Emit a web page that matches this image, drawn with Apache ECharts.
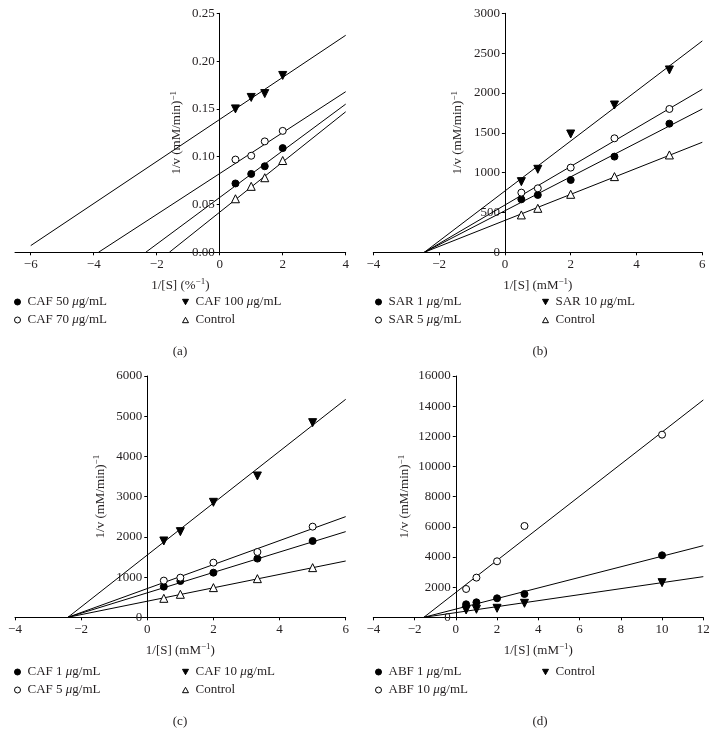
<!DOCTYPE html>
<html>
<head>
<meta charset="utf-8">
<script src="https://cdn.jsdelivr.net/npm/echarts@6/dist/echarts.min.js"></script>
<style>
html,body{margin:0;padding:0;background:#fff;}
#chart{width:719px;height:745px;}
</style>
</head>
<body>
<div id="chart"></div>
<script>
// ---------- DATA ----------
// Panel (a)
const xA = [0.5, 1, 1.43, 2];
const aCAF50 = [0.072, 0.082, 0.090, 0.109];
const aCAF70 = [0.097, 0.101, 0.116, 0.127];
const aCAF100 = [0.150, 0.162, 0.166, 0.185];
const aControl = [0.056, 0.069, 0.078, 0.096];
const aFitCAF50 = [[-2.35, 0], [4, 0.155]];
const aFitCAF70 = [[-3.85, 0], [4, 0.168]];
const aFitCAF100 = [[-6, 0.007], [4, 0.227]];
const aFitControl = [[-1.6, 0], [4, 0.147]];
const aXTicks = [-6, -4, -2, 0, 2, 4];

// Panel (b)
const xB = [0.5, 1, 2, 3.33, 5];
const bSAR1 = [665, 720, 908, 1201, 1615];
const bSAR5 = [749, 803, 1063, 1431, 1799];
const bSAR10 = [887, 1042, 1485, 1849, 2289];
const bControl = [469, 552, 728, 950, 1222];
const bFitSAR1 = [[-2.45, 0], [6, 1799]];
const bFitSAR5 = [[-2.45, 0], [6, 2046]];
const bFitSAR10 = [[-2.45, 0], [6, 2653]];
const bFitControl = [[-2.45, 0], [6, 1381]];

// Panel (c)
const xC = [0.5, 1, 2, 3.33, 5];
const cCAF1 = [762, 903, 1110, 1459, 1898];
const cCAF5 = [912, 986, 1359, 1624, 2254];
const cCAF10 = [1898, 2130, 2859, 3514, 4840];
const cControl = [472, 572, 738, 961, 1235];
const cFitCAF1 = [[-2.4, 0], [6, 2130]];
const cFitCAF5 = [[-2.4, 0], [6, 2503]];
const cFitCAF10 = [[-2.4, 0], [6, 5420]];
const cFitControl = [[-2.4, 0], [6, 1400]];

// Panel (d)
const xD = [0.5, 1, 2, 3.33, 10];
const dABF1 = [862, 994, 1260, 1547, 4110];
const dABF10 = [1878, 2630, 3713, 6055, 12110];
const dControl = [486, 530, 597, 928, 2298];
const dFitABF1 = [[-1.55, 0], [12, 4751]];
const dFitABF10 = [[-1.55, 0], [12, 14409]];
const dFitControl = [[-1.55, 0], [12, 2696]];

// ---------- STYLE / LAYOUT ----------
const FONT = '"Liberation Serif", "DejaVu Serif", serif';
const TXT = '#231f20';
const TRI_DOWN = 'path://M0,0L10,0L5,9Z';
const TRI_UP = 'path://M5,0L10,9L0,9Z';
const MK = {
  filled: {symbol: 'circle', size: 7, color: '#000', border: '#000'},
  open: {symbol: 'circle', size: 7, color: '#fff', border: '#000'},
  down: {symbol: TRI_DOWN, size: 8, color: '#000', border: '#000'},
  up: {symbol: TRI_UP, size: 8, color: '#fff', border: '#000'}
};
const SUP = {fontFamily: FONT, fontSize: 9, color: TXT, verticalAlign: 'top', lineHeight: 10, padding: [0, 0, 6, 0]};
const IT = {fontFamily: FONT, fontSize: 13, color: TXT, fontStyle: 'italic'};

const panels = [
  {key: 'a', grid: {left: 15, top: 13.3, width: 330.7, height: 239}, xMin: -6.5, xMax: 4, xTicks: aXTicks,
   yMax: 0.25, yInt: 0.05, yDec: 2, yGap: 35, xName: '1/[S] (%{sup|−1})',
   series: [
     ['CAF 50 μg/mL', xA, aCAF50, aFitCAF50, 'filled'],
     ['CAF 70 μg/mL', xA, aCAF70, aFitCAF70, 'open'],
     ['CAF 100 μg/mL', xA, aCAF100, aFitCAF100, 'down'],
     ['Control', xA, aControl, aFitControl, 'up']],
   legendCols: [[0, 1], [2, 3]], legendX: [14, 182], legendY: 295, label: [180, 352]},
  {key: 'b', grid: {left: 373.3, top: 13.3, width: 329, height: 239}, xMin: -4, xMax: 6, xTicks: null,
   yMax: 3000, yInt: 500, yDec: 0, yGap: 39, xName: '1/[S] (mM{sup|−1})',
   series: [
     ['SAR 1 μg/mL', xB, bSAR1, bFitSAR1, 'filled'],
     ['SAR 5 μg/mL', xB, bSAR5, bFitSAR5, 'open'],
     ['SAR 10 μg/mL', xB, bSAR10, bFitSAR10, 'down'],
     ['Control', xB, bControl, bFitControl, 'up']],
   legendCols: [[0, 1], [2, 3]], legendX: [375, 542], legendY: 295, label: [540, 352]},
  {key: 'c', grid: {left: 15, top: 376, width: 330.7, height: 241.3}, xMin: -4, xMax: 6, xTicks: null,
   yMax: 6000, yInt: 1000, yDec: 0, yGap: 39, xName: '1/[S] (mM{sup|−1})',
   series: [
     ['CAF 1 μg/mL', xC, cCAF1, cFitCAF1, 'filled'],
     ['CAF 5 μg/mL', xC, cCAF5, cFitCAF5, 'open'],
     ['CAF 10 μg/mL', xC, cCAF10, cFitCAF10, 'down'],
     ['Control', xC, cControl, cFitControl, 'up']],
   legendCols: [[0, 1], [2, 3]], legendX: [14, 182], legendY: 665, label: [180, 722]},
  {key: 'd', grid: {left: 373.3, top: 376, width: 330, height: 241.3}, xMin: -4, xMax: 12, xTicks: null,
   yMax: 16000, yInt: 2000, yDec: 0, yGap: 43, xName: '1/[S] (mM{sup|−1})',
   series: [
     ['ABF 1 μg/mL', xD, dABF1, dFitABF1, 'filled'],
     ['ABF 10 μg/mL', xD, dABF10, dFitABF10, 'open'],
     ['Control', xD, dControl, dFitControl, 'down']],
   legendCols: [[0, 1], [2]], legendX: [375, 542], legendY: 665, label: [540, 722]}
];

function minusFmt(v) { return v < 0 ? '−' + (-v) : String(v); }

const grids = [], xAxes = [], yAxes = [], series = [], legends = [], graphics = [];
panels.forEach((p, i) => {
  grids.push(Object.assign({outerBoundsMode: 'none', containLabel: false}, p.grid));
  const xLabel = {fontFamily: FONT, fontSize: 13, color: TXT, margin: 6, formatter: minusFmt};
  const xTick = {length: 3, lineStyle: {color: '#000'}};
  if (p.xTicks) { xLabel.customValues = p.xTicks; xTick.customValues = p.xTicks; }
  xAxes.push({
    gridIndex: i, type: 'value', min: p.xMin, max: p.xMax, interval: 2,
    splitLine: {show: false},
    axisLine: {lineStyle: {color: '#000', width: 1}, onZero: false},
    axisTick: xTick, axisLabel: xLabel,
    name: p.xName, nameLocation: 'middle', nameGap: 25,
    nameTextStyle: {fontFamily: FONT, fontSize: 13, color: TXT, lineHeight: 16, rich: {sup: SUP}}
  });
  // place the y axis where x = 0 (offset from grid left edge)
  const zeroOffset = (0 - p.xMin) / (p.xMax - p.xMin) * p.grid.width;
  yAxes.push({
    gridIndex: i, type: 'value', min: 0, max: p.yMax, interval: p.yInt,
    position: 'left', offset: -zeroOffset,
    splitLine: {show: false},
    axisLine: {lineStyle: {color: '#000', width: 1}, onZero: false},
    axisTick: {length: 3, lineStyle: {color: '#000'}},
    axisLabel: {fontFamily: FONT, fontSize: 13, color: TXT, margin: 5,
      formatter: v => v.toFixed(p.yDec)},
    name: '1/v (mM/min){sup|−1}', nameLocation: 'middle', nameGap: p.yGap,
    nameTextStyle: {fontFamily: FONT, fontSize: 13, color: TXT, lineHeight: 16, rich: {sup: SUP}}
  });
  p.series.forEach(s => {
    const [name, xs, ys, fit, mk] = s;
    const m = MK[mk];
    const sname = p.key + ':' + name;
    series.push({
      type: 'line', name: p.key + ':fit:' + name, xAxisIndex: i, yAxisIndex: i,
      data: fit, symbol: 'none', silent: true, z: 2,
      lineStyle: {color: '#000', width: 1}
    });
    series.push({
      type: 'scatter', name: sname, xAxisIndex: i, yAxisIndex: i,
      data: xs.map((x, k) => [x, ys[k]]), symbol: m.symbol, symbolSize: m.size, z: 3,
      itemStyle: {color: m.color, borderColor: m.border, borderWidth: 1, opacity: 1}
    });
  });
  p.legendCols.forEach((col, ci) => {
    legends.push({
      orient: 'vertical', left: p.legendX[ci], top: p.legendY, padding: 0,
      itemWidth: 6, itemHeight: 6, itemGap: 4, selectedMode: false,
      data: col.map(k => {
        const s = p.series[k];
        const m = MK[s[4]];
        return {name: p.key + ':' + s[0], icon: m.symbol === 'circle' ? 'circle' : m.symbol,
          itemStyle: {color: m.color, borderColor: m.border, borderWidth: 1}};
      }),
      formatter: n => n.slice(2).replace('μ', '{it|μ}'),
      textStyle: {fontFamily: FONT, fontSize: 13, color: TXT, lineHeight: 14, padding: [0, 0, 0, 2], rich: {it: IT}}
    });
  });
  graphics.push({type: 'text', x: p.label[0], y: p.label[1],
    style: {text: '(' + p.key + ')', fontFamily: FONT, fontSize: 13, fill: TXT, align: 'center', verticalAlign: 'middle'}});
});

const chart = echarts.init(document.getElementById('chart'), null, {renderer: 'canvas'});
chart.setOption({
  animation: false,
  backgroundColor: '#fff',
  grid: grids, xAxis: xAxes, yAxis: yAxes, series: series, legend: legends, graphic: graphics
});
</script>
</body>
</html>
